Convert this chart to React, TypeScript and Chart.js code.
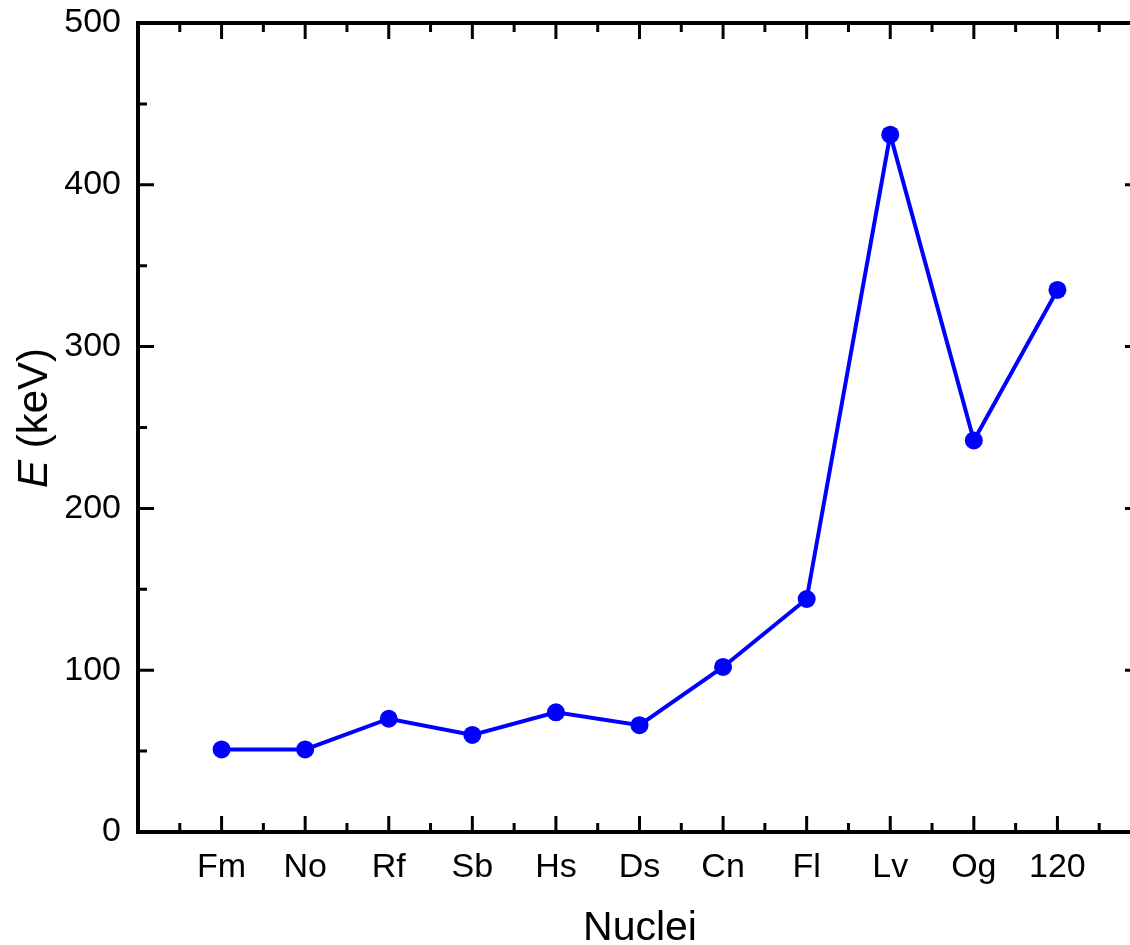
import React, { useEffect, useRef } from "react";
import { Chart, registerables } from "chart.js";

Chart.register(...registerables);

const categories = ["Fm", "No", "Rf", "Sb", "Hs", "Ds", "Cn", "Fl", "Lv", "Og", "120"];
const energies = [51, 51, 70, 60, 74, 66, 102, 144, 431, 242, 335];
const yTickValues = [0, 100, 200, 300, 400, 500];

const FONT = "'Liberation Sans', Arial, Helvetica, sans-serif";

const framePlugin = {
  id: "frameTicks",
  beforeDatasetsDraw(chart: any) {
    const { ctx, chartArea, scales } = chart;
    const { left, right, top, bottom } = chartArea;
    const xs = scales.x;
    const ys = scales.y;
    ctx.save();
    ctx.strokeStyle = "#000";
    ctx.lineWidth = 4;
    ctx.beginPath();
    ctx.moveTo(left - 2, top);
    ctx.lineTo(right + 2, top);
    ctx.moveTo(right, top);
    ctx.lineTo(right, bottom);
    ctx.stroke();
    ctx.lineWidth = 3;
    ctx.beginPath();
    for (let v = 0.5; v < 12; v += 0.5) {
      const px = xs.getPixelForValue(v);
      const len = Number.isInteger(v) ? 16 : 9;
      ctx.moveTo(px, bottom);
      ctx.lineTo(px, bottom - len);
      ctx.moveTo(px, top);
      ctx.lineTo(px, top + len);
    }
    for (let v = 50; v < 500; v += 50) {
      const py = ys.getPixelForValue(v);
      const len = v % 100 === 0 ? 16 : 9;
      ctx.moveTo(left, py);
      ctx.lineTo(left + len, py);
      ctx.moveTo(right, py);
      ctx.lineTo(right - len, py);
    }
    ctx.stroke();
    ctx.restore();
  },
  afterDraw(chart: any) {
    const { ctx } = chart;
    ctx.save();
    ctx.fillStyle = "#000";
    // y title
    ctx.translate(35, 418);
    ctx.rotate(-Math.PI / 2);
    ctx.textBaseline = "middle";
    ctx.textAlign = "left";
    ctx.font = `italic 42px ${FONT}`;
    const eW = ctx.measureText("E").width;
    ctx.font = `42px ${FONT}`;
    const restW = ctx.measureText(" (keV)").width;
    const start = -(eW + restW) / 2;
    ctx.font = `italic 42px ${FONT}`;
    ctx.fillText("E", start, 0);
    ctx.font = `42px ${FONT}`;
    ctx.fillText(" (keV)", start + eW, 0);
    ctx.restore();
    // x title
    ctx.save();
    ctx.fillStyle = "#000";
    ctx.font = `41px ${FONT}`;
    ctx.textAlign = "center";
    ctx.textBaseline = "alphabetic";
    ctx.fillText("Nuclei", 640, 940);
    ctx.restore();
  },
};

export default function App() {
  const ref = useRef<HTMLCanvasElement>(null);
  useEffect(() => {
    if (!ref.current) return;
    const chart = new Chart(ref.current, {
      type: "line",
      data: {
        datasets: [
          {
            data: energies.map((v, i) => ({ x: i + 1, y: v })),
            borderColor: "#0000ff",
            backgroundColor: "#0000ff",
            borderWidth: 4,
            pointRadius: 9,
            pointHoverRadius: 9,
            pointBorderWidth: 0,
            tension: 0,
          },
        ],
      },
      options: {
        responsive: false,
        animation: false,
        layout: { padding: { top: 23, right: 19, left: 0, bottom: 0 } },
        plugins: { legend: { display: false }, tooltip: { enabled: false } },
        scales: {
          x: {
            type: "linear",
            min: 0,
            max: 12,
            grid: { display: false, drawTicks: false },
            border: { display: true, color: "#000", width: 4 },
            afterFit: (s: any) => {
              s.height = 113;
              s.paddingLeft = 0;
              s.paddingRight = 0;
            },
            ticks: {
              stepSize: 1,
              autoSkip: false,
              maxRotation: 0,
              padding: 15,
              color: "#000",
              font: { family: FONT, size: 34 },
              callback: (v: any) => categories[Number(v) - 1] ?? "",
            },
          },
          y: {
            type: "linear",
            min: 0,
            max: 500,
            grid: { display: false, drawTicks: false },
            border: { display: true, color: "#000", width: 4 },
            afterFit: (s: any) => {
              s.width = 138;
              s.paddingTop = 0;
              s.paddingBottom = 0;
            },
            afterBuildTicks: (s: any) => {
              s.ticks = yTickValues.map((v) => ({ value: v }));
            },
            ticks: {
              padding: 17,
              color: "#000",
              font: { family: FONT, size: 34 },
            },
          },
        },
      },
      plugins: [framePlugin],
    });
    return () => chart.destroy();
  }, []);
  return (
    <div
      style={{
        position: "fixed",
        left: 0,
        top: 0,
        width: 1130,
        height: 945,
        overflow: "hidden",
        background: "#fff",
      }}
    >
      <canvas ref={ref} width={1160} height={945} style={{ width: 1160, height: 945 }} />
    </div>
  );
}
